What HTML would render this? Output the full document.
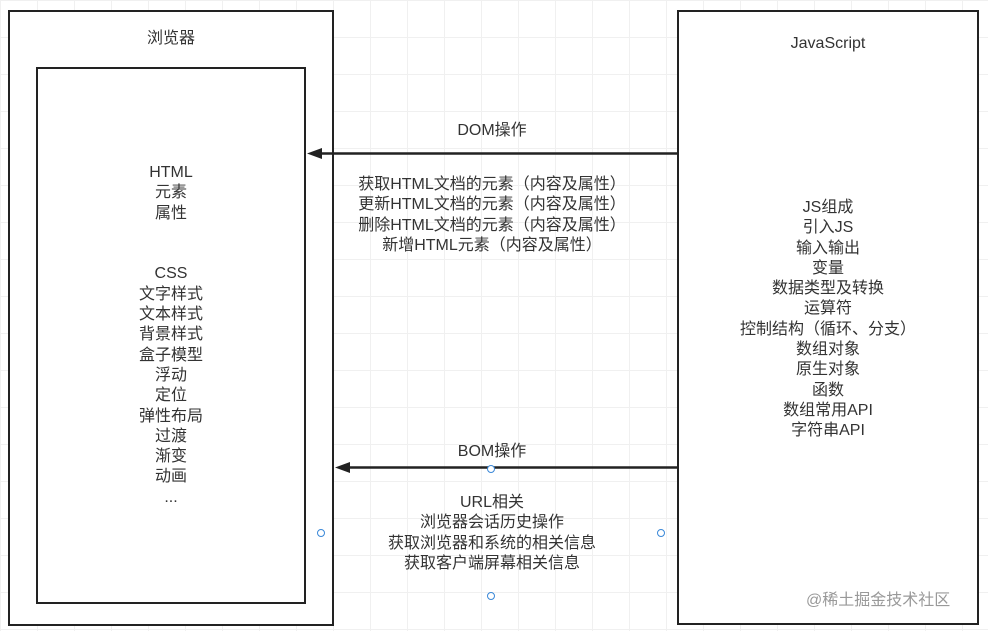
<!DOCTYPE html>
<html><head><meta charset="utf-8"><style>
html,body{margin:0;padding:0;}
body{width:988px;height:631px;position:relative;overflow:hidden;background:#fff;
background-image:linear-gradient(#f0f0f0 1px,transparent 1px),linear-gradient(90deg,#f0f0f0 1px,transparent 1px);background-size:37px 37px;
font-family:"Liberation Sans","Noto Sans CJK SC",sans-serif;color:#333;font-size:16px;}
.box{position:absolute;border:2px solid #222;background:#fff;box-sizing:border-box;}
.t{position:absolute;text-align:center;line-height:20.3px;white-space:nowrap;}
.c{position:absolute;width:8px;height:8px;border:1.3px solid #3a88d8;border-radius:50%;box-sizing:border-box;background:#fff;}
</style></head><body>
<div class="box" style="left:8px;top:10px;width:326px;height:616px;"></div>
<div class="box" style="left:36px;top:67px;width:270px;height:537px;"></div>
<div class="box" style="left:677px;top:10px;width:302px;height:615px;"></div>
<div class="t" style="left:8px;width:326px;top:29px;">浏览器</div>
<div class="t" style="left:36px;width:270px;top:163px;">HTML<br>元素<br>属性<br><br><br>CSS<br>文字样式<br>文本样式<br>背景样式<br>盒子模型<br>浮动<br>定位<br>弹性布局<br>过渡<br>渐变<br>动画<br>...</div>
<div class="t" style="left:677px;width:302px;top:34px;">JavaScript</div>
<div class="t" style="left:677px;width:302px;top:198px;">JS组成<br>引入JS<br>输入输出<br>变量<br>数据类型及转换<br>运算符<br>控制结构（循环、分支）<br>数组对象<br>原生对象<br>函数<br>数组常用API<br>字符串API</div>
<svg style="position:absolute;left:0;top:0" width="988" height="631">
<line x1="678" y1="153.5" x2="318" y2="153.5" stroke="#222" stroke-width="2.5"/>
<polygon points="307,153.5 322,148 322,159" fill="#222"/>
<line x1="678" y1="467.5" x2="346" y2="467.5" stroke="#222" stroke-width="2.5"/>
<polygon points="335,467.5 350,462 350,473" fill="#222"/>
</svg>
<div class="t" style="left:342px;width:300px;top:121px;">DOM操作</div>
<div class="t" style="left:342px;width:300px;top:175px;">获取HTML文档的元素（内容及属性）<br>更新HTML文档的元素（内容及属性）<br>删除HTML文档的元素（内容及属性）<br>新增HTML元素（内容及属性）</div>
<div class="t" style="left:342px;width:300px;top:442px;">BOM操作</div>
<div class="t" style="left:342px;width:300px;top:493px;">URL相关<br>浏览器会话历史操作<br>获取浏览器和系统的相关信息<br>获取客户端屏幕相关信息</div>
<div class="c" style="left:487px;top:465px;"></div>
<div class="c" style="left:317px;top:529px;"></div>
<div class="c" style="left:657px;top:529px;"></div>
<div class="c" style="left:487px;top:592px;"></div>
<div class="t" style="left:806px;top:591px;color:#999;font-size:16px;">@稀土掘金技术社区</div>
</body></html>
